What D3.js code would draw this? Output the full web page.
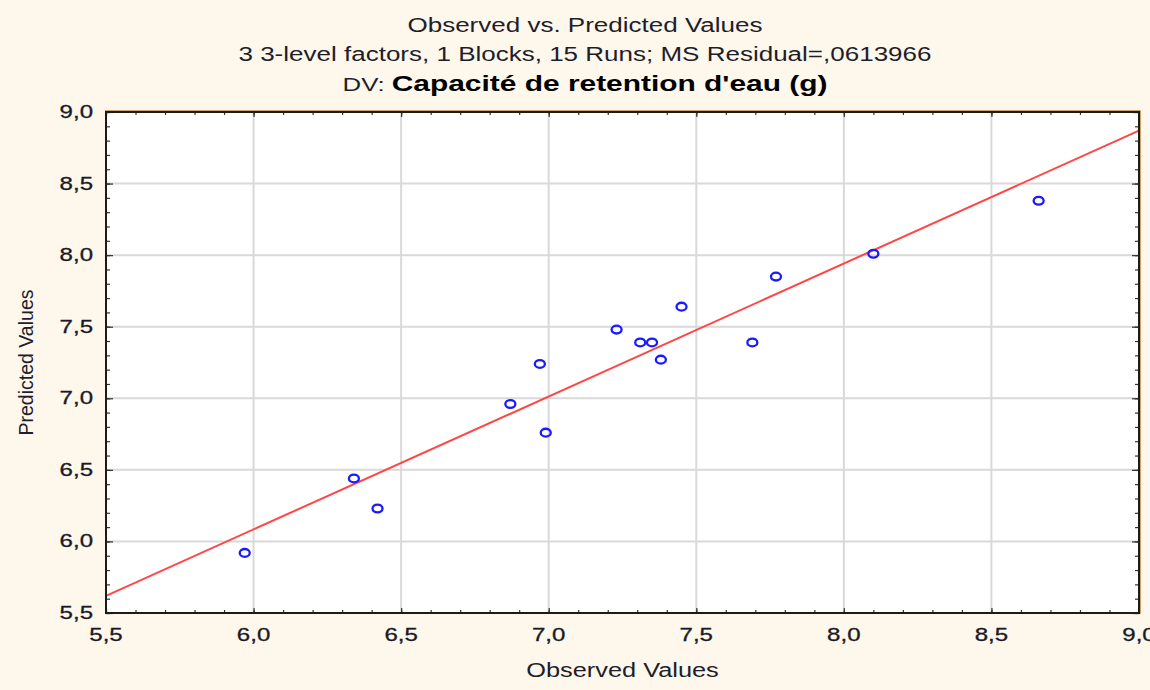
<!DOCTYPE html>
<html>
<head>
<meta charset="utf-8">
<script src="https://cdn.jsdelivr.net/npm/d3@7"></script>
<style>
  body { margin: 0; background: #fdf7ec; }
  text { font-family: "Liberation Sans", Arial, sans-serif; }
</style>
</head>
<body>
<div id="chart"></div>
<script>
// Data
const observed  = [5.97, 6.34, 6.42, 6.87, 6.97, 6.99, 7.23, 7.31, 7.35, 7.38, 7.45, 7.69, 7.77, 8.10, 8.66];
const predicted = [5.92, 6.44, 6.23, 6.96, 7.24, 6.76, 7.48, 7.39, 7.39, 7.27, 7.64, 7.39, 7.85, 8.01, 8.38];
const fitX = [5.5, 9.0];
const fitY = [5.62, 8.87];
const xTicks = [5.5, 6.0, 6.5, 7.0, 7.5, 8.0, 8.5, 9.0];
const yTicks = [5.5, 6.0, 6.5, 7.0, 7.5, 8.0, 8.5, 9.0];
const titleLine1 = "Observed vs. Predicted Values";
const titleLine2 = "3 3-level factors, 1 Blocks, 15 Runs; MS Residual=,0613966";
const dvLabel = "DV: ";
const dvName = "Capacité de retention d'eau (g)";
const xTitle = "Observed Values";
const yTitle = "Predicted Values";

const W = 1150, H = 690;
const margin = { top: 112, right: 11, bottom: 77, left: 106 };
const width = W - margin.left - margin.right;
const height = H - margin.top - margin.bottom;
const STRETCH = 1.3; // the source picture is stretched sideways

const fmt = v => d3.format(".1f")(v).replace(".", ",");

// widen horizontal text like in the source
function stretch(sel, k) {
    sel.each(function() {
        const w = this.getComputedTextLength();
        this.setAttribute("textLength", w * k);
        this.setAttribute("lengthAdjust", "spacingAndGlyphs");
    });
}

const svg = d3.select("#chart").append("svg")
    .attr("width", W)
    .attr("height", H);

svg.append("rect")
    .attr("width", W).attr("height", H)
    .attr("fill", "#fdf7ec");

const g = svg.append("g")
    .attr("transform", `translate(${margin.left},${margin.top})`);

const x = d3.scaleLinear().domain([5.5, 9.0]).range([0, width]);
const y = d3.scaleLinear().domain([5.5, 9.0]).range([height, 0]);

g.append("rect")
    .attr("width", width).attr("height", height)
    .attr("fill", "#ffffff");

// grid
g.selectAll(".vgrid")
    .data(xTicks.slice(1, -1))
    .enter().append("line")
    .attr("x1", d => x(d)).attr("x2", d => x(d))
    .attr("y1", 0).attr("y2", height)
    .attr("stroke", "#d9d9d9").attr("stroke-width", 2);

g.selectAll(".hgrid")
    .data(yTicks.slice(1, -1))
    .enter().append("line")
    .attr("x1", 0).attr("x2", width)
    .attr("y1", d => y(d)).attr("y2", d => y(d))
    .attr("stroke", "#d9d9d9").attr("stroke-width", 2);

// fitted line
g.append("line")
    .attr("x1", x(fitX[0])).attr("y1", y(fitY[0]))
    .attr("x2", x(fitX[1])).attr("y2", y(fitY[1]))
    .attr("stroke", "#ff4545")
    .attr("stroke-width", 2);

// points
g.selectAll(".pt")
    .data(observed.map((d, i) => ({ obs: d, pred: predicted[i] })))
    .enter().append("ellipse")
    .attr("cx", d => x(d.obs))
    .attr("cy", d => y(d.pred))
    .attr("rx", 5).attr("ry", 3.9)
    .attr("fill", "none")
    .attr("stroke", "#1a1aff")
    .attr("stroke-width", 2.3);

// inside ticks on all four sides
const minor = d3.range(55, 91).map(d => d / 10);

const bottomAxis = g.append("g").attr("transform", `translate(0,${height})`);
bottomAxis.call(d3.axisBottom(x).tickValues(minor).tickSize(-3).tickFormat(""));
bottomAxis.append("g").call(d3.axisBottom(x).tickValues(xTicks).tickSize(-5).tickFormat(""));
const topAxis = g.append("g");
topAxis.call(d3.axisTop(x).tickValues(minor).tickSize(-3).tickFormat(""));
topAxis.append("g").call(d3.axisTop(x).tickValues(xTicks).tickSize(-5).tickFormat(""));
const leftAxis = g.append("g");
leftAxis.call(d3.axisLeft(y).tickValues(minor).tickSize(-4).tickFormat(""));
leftAxis.append("g").call(d3.axisLeft(y).tickValues(yTicks).tickSize(-7).tickFormat(""));
const rightAxis = g.append("g").attr("transform", `translate(${width},0)`);
rightAxis.call(d3.axisRight(y).tickValues(minor).tickSize(-4).tickFormat(""));
rightAxis.append("g").call(d3.axisRight(y).tickValues(yTicks).tickSize(-7).tickFormat(""));

g.selectAll(".domain").remove();
g.selectAll(".tick line").attr("stroke", "#333").attr("stroke-width", 1.2);

// frame
g.append("path")
    .attr("d", `M-1,-1.5H${width + 1.5}V${height + 1}`)
    .attr("fill", "none").attr("stroke", "#c9a46a").attr("stroke-width", 1);
g.append("rect")
    .attr("width", width).attr("height", height)
    .attr("fill", "none")
    .attr("stroke", "#1e1a14")
    .attr("stroke-width", 2);

// tick labels
g.selectAll(".xlab")
    .data(xTicks)
    .enter().append("text")
    .attr("x", d => x(d))
    .attr("y", height + 28)
    .attr("text-anchor", "middle")
    .style("font-size", "18.5px")
    .attr("fill", "#1a1a26")
    .attr("stroke", "#1a1a26").attr("stroke-width", 0.3)
    .text(fmt)
    .call(stretch, STRETCH);

g.selectAll(".ylab")
    .data(yTicks)
    .enter().append("text")
    .attr("x", -13)
    .attr("y", d => y(d) + 6)
    .attr("text-anchor", "end")
    .style("font-size", "18.5px")
    .attr("fill", "#1a1a26")
    .attr("stroke", "#1a1a26").attr("stroke-width", 0.3)
    .text(fmt)
    .call(stretch, STRETCH);

// axis titles
svg.append("text")
    .attr("x", margin.left + width / 2)
    .attr("y", 677)
    .attr("text-anchor", "middle")
    .style("font-size", "19.5px")
    .attr("fill", "#1e1e2a")
    .text(xTitle)
    .call(stretch, STRETCH);

svg.append("text")
    .attr("transform", `translate(33,${margin.top + height / 2}) rotate(-90)`)
    .attr("text-anchor", "middle")
    .style("font-size", "19.5px")
    .attr("fill", "#1e1e2a")
    .text(yTitle);

// titles
svg.append("text")
    .attr("x", 585).attr("y", 32)
    .attr("text-anchor", "middle")
    .style("font-size", "20px")
    .attr("fill", "#1e1e2a")
    .text(titleLine1)
    .call(stretch, STRETCH);

svg.append("text")
    .attr("x", 585).attr("y", 61)
    .attr("text-anchor", "middle")
    .style("font-size", "20px")
    .attr("fill", "#1e1e2a")
    .text(titleLine2)
    .call(stretch, STRETCH);

const t3 = svg.append("text")
    .attr("x", 585).attr("y", 91)
    .attr("text-anchor", "middle")
    .attr("fill", "#000");
t3.append("tspan").style("font-size", "19px").attr("fill", "#1e1e2a").text(dvLabel);
t3.append("tspan").style("font-size", "22px").style("font-weight", "bold").text(dvName);
t3.attr("textLength", 485).attr("lengthAdjust", "spacingAndGlyphs");
</script>
</body>
</html>
